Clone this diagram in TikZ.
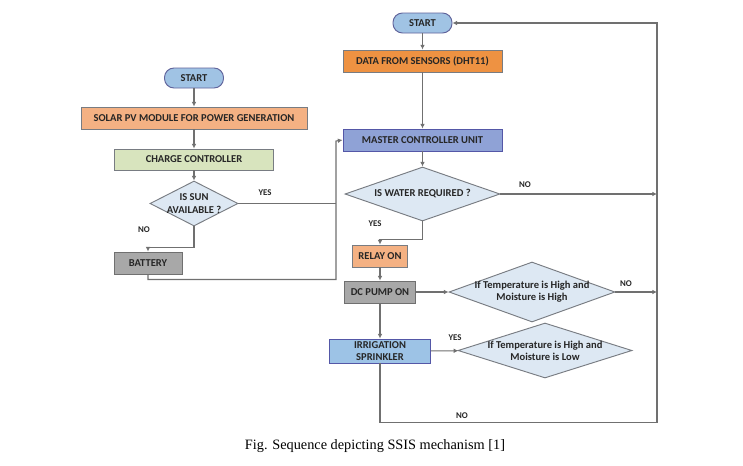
\documentclass[tikz,border=0pt]{standalone}
\usepackage{fontspec}
\setmainfont{Liberation Serif}
\newfontfamily\flowfont{Carlito}
\usepackage{tikz}
\usetikzlibrary{arrows.meta,shapes.geometric}
\definecolor{ssline}{RGB}{112,112,112}
\definecolor{ssedge}{RGB}{120,124,130}
\definecolor{sstext}{RGB}{38,38,38}
\definecolor{ssstart}{RGB}{160,195,228}
\definecolor{sspeach}{RGB}{244,177,131}
\definecolor{ssorange}{RGB}{238,146,66}
\definecolor{ssgreen}{RGB}{216,228,190}
\definecolor{ssdiam}{RGB}{221,232,243}
\definecolor{ssgray}{RGB}{168,168,168}
\definecolor{ssmaster}{RGB}{143,162,214}
\definecolor{sssprink}{RGB}{157,195,230}
\newdimen\pu \pu=0.03cm
\tikzset{
  basenode/.style={draw=ssedge,line width=0.8pt,inner sep=0pt,text=sstext,align=center,
    font=\flowfont\bfseries\fontsize{9}{10}\selectfont},
  startnode/.style={basenode,rectangle,rounded corners=9.5\pu,minimum width=59\pu,minimum height=20\pu,fill=ssstart,draw=ssedge!80!blue},
  procnode/.style={basenode,rectangle,minimum height=22\pu},
  decnode/.style={basenode,diamond,fill=ssdiam},
  dectext/.style={inner sep=0pt,text=sstext,align=center,
    font=\flowfont\bfseries\fontsize{9}{10.5}\selectfont},
  lblnode/.style={inner sep=0pt,text=sstext,font=\flowfont\bfseries\fontsize{7.5}{9}\selectfont},
  flowline/.style={draw=ssline,line width=0.9pt},
  flowarrow/.style={flowline,-{Latex[length=4pt,width=4pt]}}
}

\begin{document}
\begin{tikzpicture}[x=\pu,y=-\pu]
  \useasboundingbox[fill=white] (0,0) rectangle (743,465);
  % left column
  \node[startnode] (startL) at (194,78) {START};
  \node[procnode,fill=sspeach,minimum width=226\pu] (solar) at (194,118) {SOLAR PV MODULE FOR POWER GENERATION};
  \node[procnode,fill=ssgreen,minimum width=159\pu,minimum height=21\pu] (charge) at (194,159.5) {CHARGE CONTROLLER};
  \node[decnode,minimum width=88\pu,minimum height=45\pu] (sun) at (194,203.5) {};
  \node[dectext] (sunT) at (sun) {IS SUN\\AVAILABLE ?};
  \node[procnode,fill=ssgray,draw=ssline,minimum width=68\pu] (battery) at (148,263) {BATTERY};
  % right column
  \node[startnode] (startR) at (422.5,23) {START};
  \node[procnode,fill=ssorange,minimum width=159\pu] (data) at (422.5,61) {DATA FROM SENSORS (DHT11)};
  \node[procnode,fill=ssmaster,draw=ssedge!70!blue,minimum width=159\pu] (master) at (422.5,140) {MASTER CONTROLLER UNIT};
  \node[decnode,minimum width=155\pu,minimum height=54\pu] (water) at (422.5,194) {};
  \node[dectext] (waterT) at (water) {IS WATER REQUIRED ?};
  \node[procnode,fill=sspeach,minimum width=55\pu] (relay) at (380,256) {RELAY ON};
  \node[procnode,fill=ssgray,draw=ssline,minimum width=71\pu] (pump) at (380,292) {DC PUMP ON};
  \node[decnode,minimum width=166\pu,minimum height=60\pu] (tempHigh) at (532,292) {};
  \node[dectext] (tempHighT) at (tempHigh) {If Temperature is High and\\Moisture is High};
  \node[procnode,fill=sssprink,draw=ssedge!70!blue,minimum width=101\pu,minimum height=24\pu] (sprinkler) at (380,351) {IRRIGATION\\SPRINKLER};
  \node[decnode,minimum width=174\pu,minimum height=55\pu] (tempLow) at (545,350.5) {};
  \node[dectext] (tempLowT) at (tempLow) {If Temperature is High and\\Moisture is Low};
  \coordinate (bus) at (336,141);
  \coordinate (ret) at (657,23);
  % connectors
  \draw[flowarrow] (startL) -- (solar);
  \draw[flowarrow] (solar) -- (charge);
  \draw[flowarrow] (charge) -- (sun);
  \draw[flowarrow] (sun.south) -- ++(0,21) -| (battery.north);
  \draw[flowline] (sun.east) -- (sun.east -| bus);
  \draw[flowarrow] (battery.south) -- ++(0,5) -| (bus) -- (master.west);
  \draw[flowarrow] (startR) -- (data);
  \draw[flowarrow] (data) -- (master);
  \draw[flowarrow] (master) -- (water);
  \draw[flowarrow] (water.east) -- (water.east -| ret);
  \draw[flowarrow] (water.south) -- ++(0,18) -| (relay.north);
  \draw[flowarrow] (relay) -- (pump);
  \draw[flowarrow] (pump) -- (tempHigh);
  \draw[flowarrow] (tempHigh.east) -- (tempHigh.east -| ret);
  \draw[flowarrow] (pump) -- (sprinkler);
  \draw[flowarrow] (sprinkler) -- (tempLow);
  \draw[flowarrow] (sprinkler.south) -- ++(0,59) -| (ret) -- (startR.east);
  % labels
  \node[lblnode] (yesSun) at (265,193) {YES};
  \node[lblnode] (noSun) at (144,230) {NO};
  \node[lblnode] (noWater) at (525,185) {NO};
  \node[lblnode] (yesWater) at (375,224) {YES};
  \node[lblnode] (noHigh) at (626,284) {NO};
  \node[lblnode] (yesLow) at (455,338) {YES};
  \node[lblnode] (noLow) at (462,416) {NO};
  \node[font=\fontsize{12.2}{14}\selectfont] (caption) at (375,446) {Fig. Sequence depicting SSIS mechanism [1]};
\end{tikzpicture}
\end{document}
